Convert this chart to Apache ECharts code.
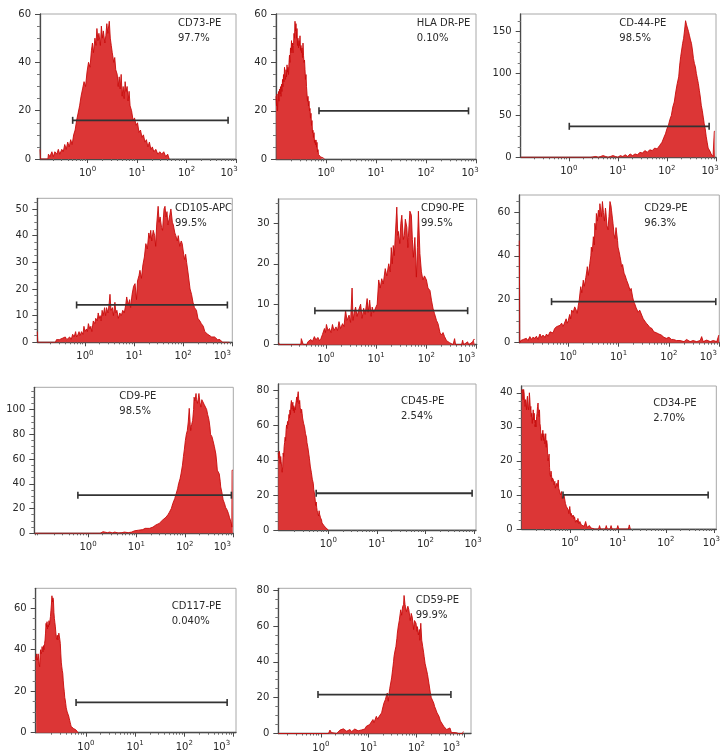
<!DOCTYPE html>
<html><head><meta charset="utf-8">
<script src="https://cdn.jsdelivr.net/npm/echarts@6/dist/echarts.min.js"></script>
<style>html,body{margin:0;padding:0;background:#fff}#c{width:723px;height:753px}</style>
</head><body><div id="c"></div>
<script>
// ---- data (x values are log10 of fluorescence intensity) ----
const markers = ['CD73-PE','HLA DR-PE','CD-44-PE','CD105-APC','CD90-PE','CD29-PE','CD9-PE','CD45-PE','CD34-PE','CD117-PE','CD59-PE'];
const percents = ['97.7%','0.10%','98.5%','99.5%','99.5%','96.3%','98.5%','2.54%','2.70%','0.040%','99.9%'];
const xDecades = [0,1,2,3];
const xDecadeExponents = ['0','1','2','3'];
const yTicks = [[0,20,40,60],[0,20,40,60],[0,50,100,150],[0,10,20,30,40,50],[0,10,20,30],[0,20,40,60],[0,20,40,60,80,100],[0,20,40,60,80],[0,10,20,30,40],[0,20,40,60],[0,20,40,60,80]];
const gateLo = [-0.30,-0.14,0.01,-0.17,-0.22,-0.33,-0.21,-0.25,-0.14,-0.20,-0.06];
const gateHi = [2.84,2.85,2.86,2.90,2.82,2.93,2.96,2.96,2.88,2.87,2.72];
const gateY = [16,20,37,14,8.4,18.9,30.8,21,10,14.6,21.7];

const cd73 = [[-0.96,4],[-0.95,0],[-0.8,0],[-0.79,2],[-0.76,1],[-0.72,3],[-0.69,1],[-0.66,3],[-0.62,2],[-0.59,4],[-0.56,2],[-0.52,4],[-0.49,3],[-0.46,6],[-0.43,4],[-0.40,7],[-0.37,5],[-0.34,8],[-0.31,6],[-0.28,10],[-0.25,12],[-0.22,16],[-0.19,19],[-0.16,22],[-0.13,26],[-0.10,29],[-0.07,32],[-0.04,30],[-0.01,36],[0.02,40],[0.05,38],[0.08,45],[0.10,48],[0.12,44],[0.15,50],[0.17,47],[0.19,54],[0.21,49],[0.23,52],[0.26,47],[0.28,55],[0.30,50],[0.32,53],[0.35,48],[0.37,51],[0.39,56],[0.41,52],[0.44,57],[0.46,50],[0.48,47],[0.50,44],[0.53,40],[0.55,42],[0.57,37],[0.60,35],[0.62,30],[0.64,34],[0.66,29],[0.68,35],[0.70,26],[0.72,30],[0.74,25],[0.76,32],[0.78,28],[0.80,30],[0.82,24],[0.84,28],[0.86,22],[0.89,20],[0.92,16],[0.95,17],[0.98,14],[1.01,15],[1.04,11],[1.07,12],[1.10,9],[1.13,10],[1.16,7],[1.19,8],[1.22,5],[1.25,7],[1.28,4],[1.31,5],[1.34,3],[1.38,4],[1.42,2],[1.46,3],[1.50,2],[1.54,3],[1.58,1],[1.62,2],[1.65,0]];
const hlaDr = [[-1.0,26],[-0.99,22],[-0.98,27],[-0.97,20],[-0.96,25],[-0.95,28],[-0.94,24],[-0.93,29],[-0.92,27],[-0.91,30],[-0.90,26],[-0.89,31],[-0.88,28],[-0.87,33],[-0.86,30],[-0.85,35],[-0.84,32],[-0.83,38],[-0.82,35],[-0.81,33],[-0.80,37],[-0.79,34],[-0.78,39],[-0.77,36],[-0.76,38],[-0.75,35],[-0.74,40],[-0.73,43],[-0.72,40],[-0.71,46],[-0.70,44],[-0.69,49],[-0.68,45],[-0.67,48],[-0.66,44],[-0.65,47],[-0.64,52],[-0.63,50],[-0.62,57],[-0.61,53],[-0.60,56],[-0.59,50],[-0.58,54],[-0.57,47],[-0.56,50],[-0.55,46],[-0.54,49],[-0.53,47],[-0.52,51],[-0.51,45],[-0.50,47],[-0.49,44],[-0.48,46],[-0.47,42],[-0.46,48],[-0.45,43],[-0.44,40],[-0.43,41],[-0.42,37],[-0.41,33],[-0.40,35],[-0.39,30],[-0.38,27],[-0.37,24],[-0.36,26],[-0.35,22],[-0.34,24],[-0.33,20],[-0.32,21],[-0.31,17],[-0.30,19],[-0.29,14],[-0.28,16],[-0.27,11],[-0.26,12],[-0.25,9],[-0.24,11],[-0.23,7],[-0.22,8],[-0.21,6],[-0.20,8],[-0.19,5],[-0.18,7],[-0.17,3],[-0.16,4],[-0.15,2],[-0.13,1.5],[-0.11,1],[-0.08,0.5],[-0.05,0.5],[-0.03,0]];
const cd44 = [[-0.98,0],[-0.75,0],[-0.74,1],[-0.72,0],[-0.6,0],[-0.58,1],[-0.56,0],[-0.4,0],[-0.38,1],[-0.36,0],[0.1,0],[0.12,1],[0.14,0],[0.4,0],[0.42,1],[0.45,0],[0.55,1],[0.6,0],[0.65,1],[0.7,2],[0.75,1],[0.8,0],[0.85,1],[0.9,2],[0.95,1],[1.0,0],[1.05,2],[1.1,1],[1.15,3],[1.2,1],[1.25,4],[1.3,2],[1.35,4],[1.4,3],[1.45,6],[1.5,5],[1.55,8],[1.6,6],[1.65,9],[1.7,8],[1.75,11],[1.8,10],[1.85,14],[1.9,18],[1.94,24],[1.97,28],[2.0,34],[2.03,38],[2.06,45],[2.09,50],[2.12,60],[2.15,66],[2.18,78],[2.21,88],[2.24,96],[2.26,110],[2.28,120],[2.30,128],[2.32,136],[2.34,142],[2.36,152],[2.38,163],[2.40,158],[2.42,156],[2.44,150],[2.46,145],[2.48,140],[2.50,136],[2.52,128],[2.54,118],[2.56,112],[2.58,108],[2.60,100],[2.62,94],[2.64,88],[2.66,80],[2.68,72],[2.70,62],[2.72,56],[2.74,48],[2.76,40],[2.78,34],[2.80,25],[2.82,18],[2.84,11],[2.86,9],[2.88,7],[2.90,4],[2.92,2],[2.94,1],[2.96,1],[2.965,31],[2.98,31]];
const cd105 = [[-0.97,4],[-0.96,0],[-0.6,0],[-0.58,1],[-0.55,0.5],[-0.52,1],[-0.49,0.5],[-0.46,1.5],[-0.43,1],[-0.40,2],[-0.37,1],[-0.34,1.5],[-0.31,2],[-0.28,1],[-0.25,3],[-0.22,2],[-0.19,4],[-0.17,2],[-0.14,3],[-0.12,4],[-0.10,2.5],[-0.07,4],[-0.04,3],[-0.02,6],[0.0,4],[0.03,5],[0.05,4],[0.07,7],[0.10,5],[0.12,6],[0.14,4],[0.17,8],[0.20,7],[0.22,9],[0.25,8],[0.27,11],[0.29,9],[0.31,10],[0.33,8],[0.35,12],[0.37,10],[0.40,13],[0.42,10],[0.44,13],[0.47,11],[0.49,14],[0.51,18],[0.53,12],[0.56,13],[0.58,10],[0.61,15],[0.63,11],[0.65,12],[0.68,9],[0.71,11],[0.74,10],[0.77,12],[0.80,11],[0.83,14],[0.85,17],[0.88,14],[0.91,16],[0.93,13],[0.96,18],[0.99,21],[1.02,22],[1.05,16],[1.07,23],[1.10,25],[1.12,27],[1.15,24],[1.18,29],[1.21,32],[1.24,37],[1.27,35],[1.30,41],[1.32,39],[1.34,42],[1.36,38],[1.39,42],[1.42,40],[1.44,36],[1.46,44],[1.49,51],[1.51,45],[1.53,47],[1.56,43],[1.58,42],[1.61,50],[1.63,51],[1.65,47],[1.67,49],[1.69,44],[1.71,46],[1.73,48],[1.75,50],[1.78,45],[1.80,44],[1.83,41],[1.85,40],[1.88,38],[1.90,40],[1.93,36],[1.96,38],[1.98,37],[2.01,33],[2.03,31],[2.05,33],[2.07,30],[2.10,26],[2.12,23],[2.14,20],[2.17,18],[2.20,15],[2.23,13],[2.27,12],[2.30,9],[2.34,8],[2.37,7],[2.41,6],[2.44,4],[2.47,4],[2.50,3],[2.54,3],[2.58,2],[2.64,2],[2.70,1],[2.75,1],[2.80,0],[2.9,0],[2.92,0.5],[2.94,0]];
const cd90 = [[-0.94,0.5],[-0.93,0],[-0.50,0],[-0.49,1.5],[-0.46,1.5],[-0.45,0],[-0.38,0],[-0.36,0.7],[-0.33,1],[-0.30,1.3],[-0.27,0.8],[-0.23,2],[-0.20,1.2],[-0.16,1.8],[-0.13,1],[-0.10,1.5],[-0.07,2.5],[-0.03,4],[-0.01,3],[0.01,5],[0.04,3.5],[0.07,4],[0.10,3],[0.13,5],[0.16,3.5],[0.20,4.4],[0.23,3.5],[0.26,5.7],[0.29,4],[0.33,5.2],[0.36,4.5],[0.39,8.5],[0.42,6],[0.46,7.3],[0.49,5.5],[0.52,14],[0.54,6],[0.56,7.7],[0.59,9.3],[0.62,7],[0.65,8.5],[0.69,10],[0.72,6.5],[0.75,9],[0.78,7.5],[0.82,11.4],[0.84,8],[0.87,11],[0.90,7],[0.92,9.3],[0.95,8],[0.98,8],[1.02,10],[1.05,16],[1.08,14],[1.11,16.3],[1.14,15],[1.18,18.8],[1.21,17],[1.25,20],[1.28,18],[1.30,24],[1.32,20],[1.34,24.5],[1.36,22],[1.38,21.6],[1.41,34],[1.43,27],[1.44,28],[1.47,25],[1.49,30],[1.51,32],[1.54,26],[1.56,27],[1.58,31],[1.61,29],[1.63,24],[1.64,26.5],[1.67,33],[1.70,32],[1.72,26],[1.74,21.6],[1.77,26.5],[1.80,16.7],[1.82,24],[1.84,33],[1.87,22.5],[1.90,18],[1.93,16],[1.96,17],[2.0,16],[2.03,14],[2.07,13.4],[2.10,11],[2.13,9],[2.16,7.7],[2.20,6],[2.23,5.2],[2.27,3],[2.30,2.4],[2.33,3],[2.36,2],[2.40,1],[2.43,0.7],[2.46,0.5],[2.49,0.3],[2.53,0],[2.56,1.5],[2.58,0],[2.70,0],[2.72,1.1],[2.74,0],[2.82,0.7],[2.84,0],[2.92,0.7],[2.94,1.3],[2.96,1.3]];
const cd29 = [[-0.97,47],[-0.96,0],[-0.94,1],[-0.92,0.5],[-0.89,1.5],[-0.86,0.8],[-0.83,2],[-0.80,1],[-0.76,2.8],[-0.73,1.5],[-0.70,2.5],[-0.66,2],[-0.63,3],[-0.60,1.5],[-0.56,4],[-0.53,2.5],[-0.50,3.5],[-0.46,2.5],[-0.43,4],[-0.40,3],[-0.36,5],[-0.33,5.8],[-0.30,4.5],[-0.27,6.5],[-0.23,7.4],[-0.20,6.5],[-0.16,8],[-0.13,9],[-0.10,7.5],[-0.07,8],[-0.04,11],[-0.02,9],[0.0,10],[0.03,13],[0.05,11],[0.07,15],[0.10,14],[0.13,16.5],[0.16,15],[0.18,13.5],[0.20,17],[0.22,19.6],[0.24,24],[0.25,25.8],[0.27,23],[0.30,28.8],[0.32,26],[0.35,30],[0.37,33],[0.38,35],[0.40,31],[0.43,36.5],[0.45,40],[0.46,44],[0.48,42],[0.50,48.8],[0.52,45],[0.53,55],[0.55,52],[0.56,59.5],[0.58,56],[0.60,61],[0.62,58],[0.63,64],[0.65,60],[0.66,58],[0.68,65],[0.70,60],[0.72,56],[0.74,62],[0.75,60],[0.77,54],[0.79,52],[0.81,58],[0.83,65],[0.85,63],[0.86,61],[0.88,57],[0.89,55],[0.91,50],[0.93,48],[0.95,53],[0.96,52.6],[0.98,47],[0.99,44],[1.01,42],[1.03,39.6],[1.05,37],[1.06,35],[1.08,36],[1.11,32],[1.13,31],[1.16,28.8],[1.19,27],[1.23,24],[1.25,25],[1.28,21],[1.30,19],[1.32,18],[1.35,16],[1.39,14],[1.42,15],[1.46,12.7],[1.49,11],[1.52,10.4],[1.55,9],[1.59,8],[1.62,7],[1.66,6.6],[1.70,5],[1.75,4.6],[1.80,4],[1.85,3.5],[1.90,2.5],[1.95,2],[2.0,2.5],[2.05,1.5],[2.09,1.5],[2.15,1],[2.22,1],[2.30,0.5],[2.35,1.5],[2.42,0.5],[2.48,1],[2.55,0.5],[2.62,1],[2.65,2.8],[2.68,0.5],[2.75,1.2],[2.82,0.5],[2.88,1],[2.95,0.5],[2.99,3.5],[3.0,3.5]];
const cd9 = [[-1.1,0],[0.05,0],[0.08,0.5],[0.12,0],[0.25,0],[0.28,1],[0.31,1.3],[0.34,0.5],[0.40,0.5],[0.45,1],[0.50,0.3],[0.55,1],[0.58,1.2],[0.62,0.3],[0.70,0.5],[0.75,1],[0.79,1.3],[0.83,0.5],[0.86,2],[0.90,1],[0.92,2.5],[0.96,2],[1.0,3],[1.04,2.5],[1.08,3.5],[1.13,3],[1.18,4],[1.22,3.5],[1.27,4],[1.30,5],[1.34,5],[1.37,6],[1.40,6.7],[1.44,7],[1.47,8],[1.50,9],[1.54,10.7],[1.58,12],[1.61,13],[1.65,15],[1.68,17],[1.72,20],[1.75,24],[1.79,28],[1.82,32],[1.85,36],[1.87,40],[1.90,44],[1.92,48],[1.95,55],[1.97,62],[1.99,68],[2.01,75],[2.03,80],[2.05,83],[2.07,90],[2.09,101],[2.11,88],[2.12,83],[2.14,88],[2.16,91],[2.18,100],[2.19,110],[2.21,107],[2.23,113],[2.24,108],[2.26,105],[2.28,110],[2.29,113],[2.31,106],[2.33,102],[2.35,108],[2.38,107],[2.40,104],[2.43,103],[2.45,100],[2.47,96],[2.49,93],[2.50,91],[2.52,85],[2.53,80],[2.56,78],[2.58,75],[2.61,70],[2.64,64],[2.66,56],[2.67,51],[2.69,50],[2.71,48],[2.73,42],[2.74,37.5],[2.77,32],[2.79,27],[2.82,24],[2.84,21],[2.87,19],[2.90,16],[2.92,13],[2.94,10.7],[2.96,8],[2.97,5],[2.975,51],[2.99,51]];
const cd45 = [[-1.03,44],[-1.02,41],[-1.01,45],[-1.0,43],[-0.99,38],[-0.98,42],[-0.97,39],[-0.96,40],[-0.95,33],[-0.94,36],[-0.93,44],[-0.92,42],[-0.91,47.6],[-0.90,50],[-0.89,53],[-0.88,51],[-0.87,57],[-0.86,60],[-0.85,58],[-0.84,62],[-0.83,60],[-0.82,63],[-0.81,66],[-0.80,64],[-0.79,68.6],[-0.78,66],[-0.77,72],[-0.76,74],[-0.75,69],[-0.74,70],[-0.73,73],[-0.72,68],[-0.71,71],[-0.70,67],[-0.69,70],[-0.68,68.6],[-0.67,72],[-0.66,74],[-0.65,76],[-0.64,73],[-0.63,77],[-0.62,79],[-0.61,75],[-0.60,72],[-0.59,74],[-0.58,70],[-0.57,71],[-0.56,67],[-0.55,69],[-0.54,66.7],[-0.53,64],[-0.52,65],[-0.51,61],[-0.50,62],[-0.49,59],[-0.48,58],[-0.47,55],[-0.46,56],[-0.45,53],[-0.44,50],[-0.43,51],[-0.42,47],[-0.41,47.6],[-0.40,43],[-0.39,41],[-0.38,40],[-0.37,36],[-0.36,35],[-0.35,33],[-0.34,32],[-0.33,29],[-0.32,28],[-0.31,26.7],[-0.30,23],[-0.29,22],[-0.28,20],[-0.27,19],[-0.26,14],[-0.25,16],[-0.24,13],[-0.23,11],[-0.22,12],[-0.21,10.5],[-0.20,8],[-0.19,11],[-0.18,9],[-0.17,9.5],[-0.16,7],[-0.15,6],[-0.14,5.7],[-0.13,4],[-0.12,5],[-0.11,3],[-0.10,3.8],[-0.09,2.5],[-0.08,3],[-0.07,1.9],[-0.05,1.2],[-0.03,0.8],[-0.02,0.4],[0.0,0]];
const cd34 = [[-1.0,40],[-0.99,41],[-0.98,40.4],[-0.97,38],[-0.96,41],[-0.95,40],[-0.94,37],[-0.93,36],[-0.92,38],[-0.91,37],[-0.90,35],[-0.89,38],[-0.88,39],[-0.87,36],[-0.86,35],[-0.85,37],[-0.84,40],[-0.83,38],[-0.82,35],[-0.81,36],[-0.80,33],[-0.79,34],[-0.78,31],[-0.77,33],[-0.76,35],[-0.75,32],[-0.74,34],[-0.73,31],[-0.72,30],[-0.71,32],[-0.70,30],[-0.69,33],[-0.68,34],[-0.67,36],[-0.66,37],[-0.65,34],[-0.64,33],[-0.63,35],[-0.62,31],[-0.61,30],[-0.60,27],[-0.59,26],[-0.58,28],[-0.57,27],[-0.56,29],[-0.55,26],[-0.54,28],[-0.53,27],[-0.52,25],[-0.51,26],[-0.50,28],[-0.49,24],[-0.48,26],[-0.47,25],[-0.46,22],[-0.45,20],[-0.44,21],[-0.43,22],[-0.42,18],[-0.41,16],[-0.40,15.4],[-0.39,17],[-0.38,16],[-0.37,14],[-0.36,15],[-0.34,14.4],[-0.33,13],[-0.31,14],[-0.30,12],[-0.28,13.4],[-0.26,12.5],[-0.24,14.4],[-0.23,12],[-0.21,11.5],[-0.19,10],[-0.17,11],[-0.16,9],[-0.14,8.5],[-0.12,10],[-0.10,9.5],[-0.09,7.5],[-0.07,6.6],[-0.05,7],[-0.03,5.6],[-0.02,4.5],[0.0,6.6],[0.02,4],[0.03,4.6],[0.05,3.5],[0.07,4.1],[0.09,3],[0.10,3.6],[0.12,2],[0.14,2.6],[0.16,2],[0.17,3.1],[0.19,1.5],[0.21,2.2],[0.24,1.2],[0.28,1.7],[0.30,0.8],[0.33,2.2],[0.36,0.5],[0.41,1],[0.44,0.3],[0.48,0.5],[0.52,0],[0.60,0],[0.62,1],[0.64,0],[0.74,0],[0.76,1],[0.78,0],[0.84,0],[0.86,1],[0.88,0],[0.98,0],[1.0,1],[1.02,0],[1.22,0],[1.24,1.2],[1.26,0]];
const cd117 = [[-1.02,36.7],[-1.01,35],[-1.0,38],[-0.99,36],[-0.98,35],[-0.97,38],[-0.96,37.5],[-0.95,33],[-0.94,31.8],[-0.93,37],[-0.92,40],[-0.91,38],[-0.90,39],[-0.89,41.5],[-0.88,40],[-0.87,39],[-0.86,42],[-0.85,40],[-0.84,43],[-0.83,44.7],[-0.82,48],[-0.81,52.7],[-0.80,51],[-0.79,53.5],[-0.78,50],[-0.77,52],[-0.76,51],[-0.75,54],[-0.74,52],[-0.73,54],[-0.72,56],[-0.71,59],[-0.70,62],[-0.69,66],[-0.68,63],[-0.67,65],[-0.66,64],[-0.65,58],[-0.64,55],[-0.63,53],[-0.62,51],[-0.61,48],[-0.60,46],[-0.59,45],[-0.58,47],[-0.57,44.7],[-0.56,46],[-0.55,48],[-0.54,48],[-0.53,45],[-0.52,43],[-0.51,38],[-0.50,34],[-0.49,31.8],[-0.48,30],[-0.47,28.6],[-0.46,25],[-0.45,22],[-0.44,20],[-0.43,17],[-0.42,15.8],[-0.41,14],[-0.40,12],[-0.39,11],[-0.38,10],[-0.37,10.5],[-0.36,9.3],[-0.35,8],[-0.34,7],[-0.33,6],[-0.32,5],[-0.31,4],[-0.30,3],[-0.29,2.9],[-0.27,2.5],[-0.25,2],[-0.24,2],[-0.22,1.5],[-0.20,1.3],[-0.18,0.5],[-0.16,0]];
const cd59 = [[-0.89,0],[0.10,0],[0.13,0.7],[0.16,0],[0.19,1.9],[0.22,0.5],[0.26,0],[0.33,0],[0.36,1],[0.40,1.9],[0.43,1],[0.47,2.6],[0.50,1.5],[0.54,1.3],[0.57,2],[0.61,2.2],[0.64,1],[0.68,1],[0.71,2.5],[0.75,3.1],[0.78,1.5],[0.82,1.5],[0.85,2],[0.89,3.1],[0.92,2.5],[0.95,4],[0.98,3],[1.02,5],[1.05,6],[1.09,7.8],[1.11,6],[1.13,6.9],[1.16,9.6],[1.19,8],[1.22,9.6],[1.25,10],[1.27,11.5],[1.30,15],[1.32,17],[1.35,19],[1.37,21],[1.39,22.6],[1.41,18],[1.42,20.7],[1.44,25],[1.46,26],[1.48,31],[1.50,35.5],[1.52,40],[1.53,43],[1.55,46],[1.57,48.5],[1.59,53],[1.60,56],[1.62,60],[1.64,63],[1.66,67],[1.67,69],[1.69,66],[1.71,70.7],[1.73,72],[1.74,77],[1.76,72],[1.77,70.7],[1.79,68],[1.80,67],[1.82,71],[1.84,69],[1.86,65],[1.87,63],[1.89,67],[1.91,65],[1.93,61],[1.94,58],[1.96,63],[1.99,61.5],[2.01,57],[2.02,59.6],[2.04,55],[2.06,58],[2.07,52],[2.09,61.5],[2.11,52],[2.13,48.5],[2.15,45],[2.16,43],[2.18,39],[2.21,35.5],[2.23,33],[2.26,28],[2.29,22.6],[2.31,20],[2.33,19],[2.36,17],[2.38,15],[2.41,13],[2.43,11.5],[2.47,9.6],[2.50,7],[2.52,6],[2.57,4],[2.60,3],[2.63,2.2],[2.67,1.5],[2.70,3.1],[2.73,0.5],[2.77,1.3],[2.82,0.5],[2.88,0],[2.96,0],[2.98,1.1],[3.0,0]];
const histograms = [cd73, hlaDr, cd44, cd105, cd90, cd29, cd9, cd45, cd34, cd117, cd59];

// ---- layout of each panel (pixels) and axis extents ----
const panels = [
  {l:40,   r:236,   t:14,    b:159,   xmin:-0.96, xmax:3.0,  ymax:60,   iv:20, tx:178,   ty:15.5,  sh:7},
  {l:276,  r:476,   t:14,    b:159.3, xmin:-1.0,  xmax:3.0,  ymax:60,   iv:20, tx:416.7, ty:15.5,  sh:6},
  {l:520.7,r:716,   t:14,    b:157.3, xmin:-0.98, xmax:3.0,  ymax:171,  iv:50, tx:619.3, ty:15.5,  sh:6},
  {l:37.3, r:232.3, t:198.3, b:342.3, xmin:-0.97, xmax:3.0,  ymax:54,   iv:10, tx:175,   ty:200.8, sh:10},
  {l:278.7,r:476.7, t:199,   b:344.7, xmin:-0.94, xmax:3.0,  ymax:36,   iv:10, tx:421,   ty:200.5, sh:10},
  {l:519.3,r:719.3, t:195,   b:342.7, xmin:-0.97, xmax:3.0,  ymax:68,   iv:20, tx:644.3, ty:200.5, sh:11},
  {l:34.3, r:233.3, t:387.3, b:533.3, xmin:-1.11, xmax:3.0,  ymax:118,  iv:20, tx:119.3, ty:389.2, sh:11},
  {l:278.3,r:476,   t:384,   b:530,   xmin:-1.03, xmax:3.04, ymax:83.4, iv:20, tx:401,   ty:394.2, sh:1},
  {l:521.7,r:717.3, t:386,   b:529,   xmin:-1.0,  xmax:3.05, ymax:42,   iv:10, tx:653.3, ty:395.8, sh:2.5},
  {l:35.7, r:236,   t:588.3, b:732.7, xmin:-1.02, xmax:3.05, ymax:69.6, iv:20, tx:171.7, ty:599.2, sh:12},
  {l:278.3,r:471,   t:588.3, b:734,   xmin:-0.89, xmax:3.14, ymax:81,   iv:20, tx:415.7, ty:592.5, sh:13}
];

const FONT = 'DejaVu Sans';
const TXT = '#2a2a2a';
const AX = '#4a4a4a';
// minor log ticks (2..9 within each decade)
const minorLog = [];
for (let d = -2; d <= 3; d++) for (let k = 2; k <= 9; k++) minorLog.push(d + Math.log10(k));

const grid = [], xAxis = [], yAxis = [], series = [], title = [];
panels.forEach((p, i) => {
  grid.push({left:p.l, top:p.t, width:p.r-p.l, height:p.b-p.t, show:true, borderColor:'#a8a8a8', borderWidth:1, containLabel:false});
  const sh = p.sh;
  xAxis.push({
    type:'value', gridIndex:i, min:p.xmin, max:p.xmax,
    axisLine:{show:true, onZero:false, lineStyle:{color:AX, width:1.3}},
    axisTick:{show:true, customValues:xDecades, length:4, lineStyle:{color:AX, width:1}},
    axisLabel:{customValues:xDecades, margin:7, color:TXT, fontFamily:FONT, fontSize:10,
      formatter: v => {
        const idx = xDecades.indexOf(v);
        const e = xDecadeExponents[idx];
        return idx === 3 ? '{b|10}{s3|' + e + '}' : '{b|10}{s|' + e + '}';
      },
      rich:{
        b:{fontSize:10, fontFamily:FONT, color:TXT},
        s:{fontSize:7, fontFamily:FONT, color:TXT, padding:[0,0,8,0]},
        s3:{fontSize:7, fontFamily:FONT, color:TXT, padding:[0,2*sh,8,0]}
      }},
    splitLine:{show:false}
  });
  xAxis.push({
    type:'value', gridIndex:i, min:p.xmin, max:p.xmax, position:'bottom',
    axisLine:{show:false, onZero:false},
    axisTick:{show:true, customValues:minorLog.filter(v => v > p.xmin && v < p.xmax), length:2, lineStyle:{color:'#666', width:1}},
    axisLabel:{show:false}, splitLine:{show:false}
  });
  yAxis.push({
    type:'value', gridIndex:i, min:0, max:p.ymax, interval:p.iv,
    axisLine:{show:true, onZero:false, lineStyle:{color:AX, width:1.3}},
    axisTick:{show:true, customValues:yTicks[i], length:5, lineStyle:{color:AX, width:1}},
    minorTick:{show:true, splitNumber:4, length:3, lineStyle:{color:'#777', width:1}},
    axisLabel:{customValues:yTicks[i], margin:9, color:TXT, fontFamily:FONT, fontSize:10},
    splitLine:{show:false}
  });
  series.push({
    type:'line', xAxisIndex:2*i, yAxisIndex:i, data:histograms[i], showSymbol:false, silent:true,
    lineStyle:{color:'#c80b0b', width:0.9}, areaStyle:{color:'#dc3636', opacity:1}, z:2, clip:true
  });
  series.push({
    type:'line', xAxisIndex:2*i, yAxisIndex:i, data:[[gateLo[i], gateY[i]], [gateHi[i], gateY[i]]],
    symbol:'rect', symbolSize:[1.6, 7], showSymbol:true, silent:true,
    itemStyle:{color:'#333'}, lineStyle:{color:'#333', width:1.8}, z:4
  });
  title.push({
    left:p.tx, top:p.ty, padding:0, text:markers[i] + '\n' + percents[i],
    textStyle:{fontFamily:FONT, fontSize:10, fontWeight:'normal', color:TXT, lineHeight:15}
  });
});

const chart = echarts.init(document.getElementById('c'), null, {renderer:'canvas'});
chart.setOption({animation:false, backgroundColor:'#fff', title, grid, xAxis, yAxis, series});
</script>
</body></html>
